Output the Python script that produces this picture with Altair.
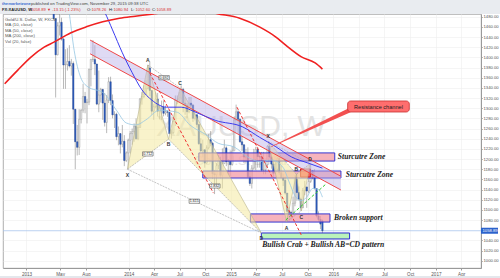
import altair as alt
import pandas as pd

# ---------------- weekly candles (XAUUSD, FXCM), week starting Monday ----------------
first_week = "2013-02-04"
opens = [1667,1667,1610,1573,1572,1577,1592,1606,1596,1579,1476,1405,1462,1469,1436,1385,1386,1392,1383,1388,
         1298,1234,1223,1278,1296,1323,1311,1312,1376,1396,1396,1387,1308,1326,1337,1310,1272,1316,1352,1315,
         1287,1288,1244,1250,1229,1235,1197,1212,
         1237,1250,1254,1264,1240,1262,1318,1323,1327,1339,1379,1335,1294,1303,1318,1294,1300,1302,1290,1293,
         1292,1250,1252,1274,1316,1316,1320,1337,1310,1306,1293,1310,1306,1280,1287,1268,1230,1216,1218,1192,
         1222,1238,1231,1171,1169,1187,1197,1168,1191,1222,1195,1195,
         1189,1216,1277,1293,1278,1234,1228,1204,1212,1165,1152,1182,1199,1219,1205,1204,1178,1179,1189,1225,
         1204,1190,1172,1180,1201,1173,1163,1158,1133,1097,1095,1094,1113,1160,1134,1121,1104,1138,1145,1137,
         1156,1177,1163,1142,1088,1081,1078.26]
highs = [1685,1669,1612,1619,1589,1597,1616,1609,1605,1598,1476,1469,1488,1478,1438,1416,1418,1424,1397,1392,
         1298,1267,1298,1298,1348,1332,1318,1378,1397,1434,1424,1387,1374,1340,1338,1330,1326,1361,1362,1327,
         1294,1291,1264,1251,1267,1247,1215,1240,
         1255,1260,1270,1280,1270,1320,1332,1345,1355,1385,1392,1335,1308,1331,1330,1305,1315,1315,1305,1296,
         1292,1258,1278,1325,1325,1332,1345,1340,1321,1310,1322,1322,1308,1296,1289,1268,1241,1238,1219,1227,
         1249,1255,1234,1178,1192,1208,1204,1221,1238,1225,1200,1217,
         1225,1283,1307,1297,1280,1245,1229,1220,1223,1178,1188,1220,1224,1224,1209,1214,1214,1193,1227,1232,
         1205,1199,1194,1205,1204,1187,1171,1166,1133,1105,1098,1126,1168,1170,1146,1124,1143,1157,1146,1161,
         1191,1178,1180,1142,1097,1088,1080.94]
lows = [1662,1600,1554,1570,1562,1573,1590,1587,1539,1476,1321,1404,1443,1433,1338,1338,1374,1380,1364,1269,
        1180,1207,1208,1270,1291,1290,1270,1306,1343,1391,1365,1306,1292,1311,1277,1264,1251,1310,1306,1280,
        1261,1237,1227,1211,1223,1186,1194,1182,
        1211,1228,1234,1238,1237,1262,1307,1320,1327,1337,1324,1287,1277,1300,1284,1278,1277,1284,1286,1283,
        1249,1240,1250,1265,1308,1310,1311,1292,1287,1280,1290,1302,1273,1276,1262,1228,1214,1204,1183,1191,
        1219,1225,1161,1131,1148,1180,1162,1142,1191,1186,1170,1167,
        1187,1216,1276,1250,1232,1216,1192,1193,1163,1147,1142,1179,1178,1183,1183,1175,1170,1170,1182,1201,
        1181,1163,1170,1176,1169,1163,1147,1130,1077,1077,1080,1086,1107,1118,1118,1098,1104,1129,1104,1133,
        1153,1160,1140,1085,1077,1062,1052.60]
closes = [1667,1610,1573,1572,1577,1592,1606,1596,1579,1476,1405,1462,1469,1436,1385,1386,1392,1383,1388,1298,
          1234,1223,1278,1296,1323,1311,1312,1376,1396,1396,1387,1308,1326,1337,1310,1272,1316,1352,1315,1287,
          1288,1244,1250,1229,1235,1197,1212,1237,
          1250,1254,1264,1240,1262,1318,1323,1327,1339,1379,1335,1294,1303,1318,1294,1300,1302,1290,1293,1292,
          1250,1252,1274,1316,1316,1320,1337,1310,1306,1293,1310,1306,1280,1287,1268,1230,1216,1218,1192,1222,
          1238,1231,1171,1169,1187,1197,1168,1191,1222,1195,1195,1189,
          1216,1277,1293,1278,1234,1228,1204,1212,1165,1152,1182,1199,1219,1205,1204,1178,1179,1189,1225,1204,
          1190,1172,1180,1201,1173,1163,1158,1133,1097,1095,1094,1113,1160,1134,1121,1104,1138,1145,1137,1156,
          1177,1163,1142,1088,1081,1072,1058.89]

# ---------------- moving averages ----------------
ma10_dates = ["2013-05-20","2013-06-01","2013-06-20","2013-07-13","2013-08-08","2013-10-03","2013-11-18",
              "2013-12-23","2014-01-27","2014-03-03","2014-04-21","2014-06-23","2014-08-07","2014-10-06",
              "2014-11-16","2015-01-11","2015-03-01","2015-04-13","2015-05-25","2015-07-06","2015-07-27",
              "2015-08-17","2015-09-07","2015-09-28","2015-10-19","2015-11-09","2015-11-23"]
ma10_vals = [1530,1493,1414,1361,1342,1330,1296,1271,1267,1277,1296,1292,1267,1247,1231,1224,1204,1195,
             1198,1183,1155,1128,1118,1125,1142,1140,1125]
ma50_dates = ["2013-09-12","2013-10-07","2013-11-04","2013-12-09","2014-01-13","2014-02-17","2014-03-24",
              "2014-05-16","2014-07-07","2014-08-28","2014-11-06","2015-02-12","2015-04-12","2015-06-10",
              "2015-08-05","2015-10-03","2015-11-23"]
ma50_vals = [1513,1489,1454,1409,1370,1336,1316,1302,1302,1292,1276,1263,1243,1224,1204,1192,1182]
ma200_dates = ["2012-10-15","2012-12-01","2013-01-18","2013-03-05","2013-04-09","2013-06-07","2013-08-02",
               "2013-09-30","2013-11-29","2014-01-24","2014-03-24","2014-06-26","2014-09-15","2014-11-13",
               "2015-02-01","2015-04-12","2015-06-10","2015-07-15","2015-09-09","2015-10-28","2015-11-23"]
ma200_vals = [1348,1375,1401,1420,1430,1448,1460,1470,1477,1481,1485,1492,1493,1486,1477,1460,1440,1424,
              1401,1389,1377]

last_price = 1058.89

# ---------------- drawings (time / price anchors) ----------------
channel_dates = ["2013-08-16", "2016-01-28"]
channel_upper = [1434, 1166]
channel_lower = [1407, 1139]

zone_upper = ["2014-09-08", "2016-01-06", 1196, 1212]
zone_lower = ["2014-09-22", "2016-01-28", 1162.6, 1176.4]
zone_broken = ["2015-03-11", "2015-12-20", 1076, 1092]
zone_target = ["2015-04-19", "2016-02-28", 1042.7, 1054.5]
zone_prz = ["2015-09-06", "2015-10-11", 1164.7, 1180.4]

crab_names = ["X", "A", "B", "C", "D"]
crab_dates = ["2013-12-27", "2014-03-10", "2014-05-23", "2014-07-03", "2015-04-19"]
crab_prices = [1180, 1385, 1239, 1340, 1054.5]
small_names = ["X", "A", "B", "C", "D"]
small_dates = ["2015-05-13", "2015-07-18", "2015-08-22", "2015-09-09", "2015-10-10"]
small_prices = [1235, 1077, 1170, 1098, 1191]

ratio_texts = ["0.692", "0.712", "1.615", "2.832"]
ratio_dates = ["2014-05-07", "2014-03-10", "2014-08-23", "2014-11-04"]
ratio_prices = [1360, 1210, 1117, 1147]

red_dash_1 = ["2014-03-17", 1369, "2014-10-30", 1133]
red_dash_2 = ["2015-01-22", 1302, "2015-09-09", 1050]
green_dash = ["2015-07-15", 1080, "2015-12-06", 1151]
pointer_dates = ["2015-05-24", "2016-02-28"]
pointer_prices = [1224, 1296]
pointer_widths = [0.6, 4.5]
callout_box = ["2016-02-21", "2016-09-28", 1292.5, 1314.2]

# ---------------- scales / axes ----------------
tick_months = [(2013, 1), (2013, 5), (2013, 8), (2014, 1), (2014, 4), (2014, 7), (2014, 10),
               (2015, 1), (2015, 4), (2015, 7), (2015, 10), (2016, 1), (2016, 4), (2016, 7),
               (2016, 10), (2017, 1), (2017, 4)]
price_ticks = [v for v in range(1000, 1481, 20) if v != 1060]
xscale = alt.Scale(type="utc", domain=[alt.DateTime(year=2012, month=10, date=27, utc=True),
                                        alt.DateTime(year=2017, month=5, date=24, utc=True)])
xaxis = alt.Axis(values=[alt.DateTime(year=y, month=m, date=1, utc=True) for y, m in tick_months],
                 labelExpr="utcmonth(datum.value) == 0 ? utcFormat(datum.value, '%Y') : utcFormat(datum.value, '%b')",
                 title=None, grid=True, tickSize=2, labelPadding=1)
yscale = alt.Scale(domain=[985.6, 1485.3], nice=False, zero=False)
yaxis = alt.Axis(orient="right", values=price_ticks, format=".2f", title=None,
                 grid=True, tickSize=1.2, labelPadding=0.8, labelFontSize=4.2)


def X(f):
    return alt.X(f"{f}:T", scale=xscale, axis=xaxis)


def Y(f):
    return alt.Y(f"{f}:Q", scale=yscale, axis=yaxis)


one = pd.DataFrame({"a": [0]})
SANS = "Liberation Sans"
SERIF = "Liberation Serif"

layers = []

# header / frame
layers.append(alt.Chart(one).mark_rect(color="#e9ecf0").encode(
    x=alt.value(-3), x2=alt.value(497), y=alt.value(-14), y2=alt.value(0)))
layers.append(alt.Chart(one).mark_rect(color="#e4e7ec").encode(
    x=alt.value(-3), x2=alt.value(497), y=alt.value(262), y2=alt.value(264)))

# watermark
wm = pd.DataFrame({"d": ["2015-02-05", "2015-02-05"], "p": [1263, 1196], "t": ["XAUUSD, W", "Gold/U.S. Dollar"]})
layers.append(alt.Chart(wm.iloc[[0]]).mark_text(font=SANS, fontSize=30, color="#e2e2e2", clip=True).encode(
    x=X("d"), y=Y("p"), text="t:N"))
layers.append(alt.Chart(wm.iloc[[1]]).mark_text(font=SANS, fontSize=13, color="#e2e2e2", clip=True).encode(
    x=X("d"), y=Y("p"), text="t:N"))

# last price line
layers.append(alt.Chart(pd.DataFrame({"p": [last_price]})).mark_rule(color="#a9c6ee", strokeWidth=0.8).encode(
    y=Y("p")))

# candles
dates = pd.date_range(first_week, periods=len(closes), freq="7D").strftime("%Y-%m-%d")
cdf = pd.DataFrame({"d": dates, "o": opens, "h": highs, "l": lows, "c": closes})
cdf["up"] = cdf["c"] >= cdf["o"]
layers.append(alt.Chart(cdf).mark_rule(color="#8a8a8a", strokeWidth=0.6, clip=True).encode(
    x=X("d"), y=Y("l"), y2="h"))
layers.append(alt.Chart(cdf[cdf["up"]]).mark_bar(size=1.4, fill="#f4f4f4", stroke="#8a8a8a",
                                                  strokeWidth=0.4, clip=True).encode(x=X("d"), y=Y("o"), y2="c"))
layers.append(alt.Chart(cdf[~cdf["up"]]).mark_bar(size=1.4, fill="#2f5fc0", stroke="#1d3d8c",
                                                   strokeWidth=0.4, clip=True).encode(x=X("d"), y=Y("o"), y2="c"))


def zone(z, fill, stroke, op):
    df = pd.DataFrame({"d0": [z[0]], "d1": [z[1]], "p0": [z[2]], "p1": [z[3]]})
    return alt.Chart(df).mark_rect(fill=fill, fillOpacity=op, stroke=stroke, strokeWidth=1, clip=True).encode(
        x=X("d0"), x2="d1", y=Y("p0"), y2="p1")


def seg(s, color, width, dash=None):
    df = pd.DataFrame({"d0": [s[0]], "p0": [s[1]], "d1": [s[2]], "p1": [s[3]]})
    kw = dict(color=color, strokeWidth=width, clip=True)
    if dash:
        kw["strokeDash"] = dash
    return alt.Chart(df).mark_rule(**kw).encode(x=X("d0"), x2="d1", y=Y("p0"), y2="p1")


# zones
layers.append(zone(zone_upper, "#f39aa6", "#3434d0", 0.75))
layers.append(zone(zone_lower, "#f39aa6", "#3434d0", 0.75))
layers.append(zone(zone_broken, "#f39aa6", "#3434d0", 0.75))
layers.append(zone(zone_target, "#b6f2b6", "#2a2ad0", 0.95))
layers.append(zone(zone_prz, "#ff3b3b", "#d02020", 0.7))

# harmonic pattern fills and legs
pat = pd.DataFrame({"n": crab_names, "d": crab_dates, "p": crab_prices, "k": list(range(5))})
spat = pd.DataFrame({"n": small_names, "d": small_dates, "p": small_prices, "k": list(range(5))})
for df in (pat, spat):
    for tri in (df.iloc[0:3], df.iloc[2:5]):
        layers.append(alt.Chart(tri).mark_line(fill="#f4eaa0", fillOpacity=0.55, stroke="#b8b48c",
                                               strokeWidth=0.6, clip=True).encode(
            x=X("d"), y=Y("p"), order="k:Q"))
    for i, j in ((0, 2), (1, 3), (2, 4), (0, 4)):
        layers.append(seg([df["d"][i], df["p"][i], df["d"][j], df["p"][j]], "#9a9a9a", 0.6, [2, 1]))

# channel
ch = pd.DataFrame({"d": channel_dates, "u": channel_upper, "l": channel_lower})
layers.append(alt.Chart(ch).mark_area(color="#b8aee6", opacity=0.45, clip=True).encode(
    x=X("d"), y=Y("u"), y2="l"))
layers.append(alt.Chart(ch).mark_line(color="#f04848", strokeWidth=1, clip=True).encode(x=X("d"), y=Y("u")))
layers.append(alt.Chart(ch).mark_line(color="#f04848", strokeWidth=1, clip=True).encode(x=X("d"), y=Y("l")))

# moving averages
for dts, vals, col, w in ((ma10_dates, ma10_vals, "#95c6e2", 0.8),
                          (ma50_dates, ma50_vals, "#3b3bf0", 1.0),
                          (ma200_dates, ma200_vals, "#f02020", 1.6)):
    layers.append(alt.Chart(pd.DataFrame({"d": dts, "v": vals})).mark_line(
        color=col, strokeWidth=w, interpolate="monotone", clip=True).encode(x=X("d"), y=Y("v")))

# dashed lines
layers.append(seg(red_dash_1, "#f03030", 1, [3, 2]))
layers.append(seg(red_dash_2, "#f03030", 1, [3, 2]))
layers.append(seg(green_dash, "#33cc33", 1, [3, 2]))

# ratio labels
rdf = pd.DataFrame({"t": ratio_texts, "d": ratio_dates, "p": ratio_prices})
layers.append(alt.Chart(rdf).mark_point(shape="M-1,-0.4L1,-0.4L1,0.4L-1,0.4Z", size=110, filled=True,
                                        fill="white", stroke="#333333", strokeWidth=0.5, opacity=1,
                                        clip=True).encode(x=X("d"), y=Y("p")))
layers.append(alt.Chart(rdf).mark_text(font=SANS, fontSize=3.6, color="#111", clip=True).encode(
    x=X("d"), y=Y("p"), text="t:N"))

# pattern point letters
for df, offs in ((pat, [6, -5, 5, -5, 5]), (spat, [-5, 6, -5, 6, -5])):
    for i in range(5):
        layers.append(alt.Chart(df.iloc[[i]]).mark_text(font=SANS, fontSize=5, fontWeight="bold",
                                                        color="#333", dy=offs[i], clip=True).encode(
            x=X("d"), y=Y("p"), text="n:N"))

# callout (wedge pointer + rounded box)
ptr = pd.DataFrame({"d": pointer_dates, "p": pointer_prices, "w": pointer_widths})
layers.append(alt.Chart(ptr).mark_trail(color="#f25050", clip=True).encode(
    x=X("d"), y=Y("p"), size=alt.Size("w:Q", scale=None, legend=None)))
cb = pd.DataFrame({"d0": [callout_box[0]], "d1": [callout_box[1]], "p0": [callout_box[2]], "p1": [callout_box[3]]})
layers.append(alt.Chart(cb).mark_rect(fill="#ff6e6e", stroke="#c83030", strokeWidth=0.8, cornerRadius=3,
                                      clip=True).encode(x=X("d0"), x2="d1", y=Y("p0"), y2="p1"))
ann = pd.DataFrame({
    "t": ["Resistance channel"],
    "d": ["2016-06-10"], "p": [1303.3]})
layers.append(alt.Chart(ann).mark_text(font=SANS, fontSize=5.6, color="#222", clip=True).encode(
    x=X("d"), y=Y("p"), text="t:N"))

# italic labels
notes = pd.DataFrame({
    "t": ["Sturcutre Zone", "Sturcutre Zone", "Broken support", "Bullish Crab + Bullish AB=CD pattern"],
    "d": ["2016-01-17", "2016-02-14", "2016-01-03", "2015-04-22"],
    "p": [1204, 1169, 1084, 1031]})
layers.append(alt.Chart(notes).mark_text(font=SERIF, fontSize=7.6, fontStyle="italic", fontWeight="bold",
                                         color="#222", align="left", clip=True).encode(
    x=X("d"), y=Y("p"), text="t:N"))

# last price badge on axis
badge = pd.DataFrame({"p0": [last_price - 5.9], "p1": [last_price + 5.9], "p": [last_price],
                      "t": [f"{last_price:.2f}"]})
layers.append(alt.Chart(badge).mark_rect(color="#2b62cc").encode(
    x=alt.value(478), x2=alt.value(495), y=Y("p0"), y2="p1"))
layers.append(alt.Chart(badge).mark_text(font=SANS, fontSize=4.2, color="white", align="left").encode(
    x=alt.value(479.5), y=Y("p"), text="t:N"))


# header texts
def label(txt, x, y, color="#444", size=4.3, weight="normal"):
    return alt.Chart(one).mark_text(text=txt, font=SANS, fontSize=size, color=color, fontWeight=weight,
                                    align="left", baseline="middle").encode(x=alt.value(x), y=alt.value(y))


layers.append(label("themarketzone", -1, -10.5, "#3e6fd0", 4.1, "bold"))
layers.append(label("published on TradingView.com, November 29, 2015 09:38 UTC", 28, -10.5, "#444", 4.2))
layers.append(label("FX:XAUUSD, W", -1, -4.5, "#222", 4.1, "bold"))
layers.append(label("1058.89 \u25bc -13.15 (-1.23%)", 28, -4.5, "#d83030", 4.1))
for lab, val, x0 in (("O:", "1078.26", 84), ("H:", "1080.94", 106), ("L:", "1052.60", 128), ("C:", "1058.89", 149)):
    layers.append(label(lab, x0, -4.5, "#222", 4.1))
    layers.append(label(val, x0 + 4.5, -4.5, "#d83030", 4.1))

for i, t in enumerate(["Gold/U.S. Dollar, W, FXCM", "MA (10, close)", "MA (50, close)", "MA (200, close)",
                       "Vol (20, false)"]):
    layers.append(label(t, 2, [6, 11.3, 16.7, 22.3, 28][i], "#555", 4.3))

chart = alt.layer(*layers).properties(
    width=478, height=254,
    autosize=alt.AutoSizeParams(type="none"),
    padding={"left": 3, "top": 14, "right": 19, "bottom": 10},
    background="white",
).configure_view(stroke="#9a9a9a", strokeWidth=0.8).configure_axis(
    gridColor="#efefef", gridWidth=0.6, domainColor="#9a9a9a", tickColor="#9a9a9a",
    labelFont=SANS, labelFontSize=4.6, labelColor="#555")

chart.save("out.html", embed_options={"renderer": "svg", "actions": False})
